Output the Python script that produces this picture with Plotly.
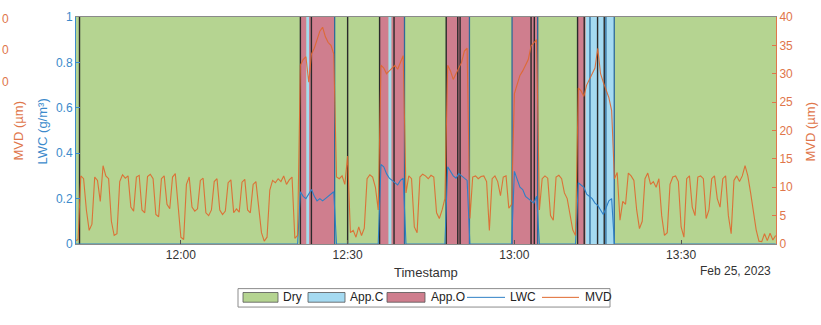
import plotly.graph_objects as go
import pandas as pd

# ---------------- DATA ----------------
# MVD (µm), one value every 30 s starting 11:41:00 on 2023-02-25
mvd_start = "2023-02-25 11:41:00"
mvd_values = [
    0.5, 0.8, 12.0, 11.5, 6.0, 2.4, 3.5, 11.8, 11.2, 7.5,
    13.8, 12.0, 11.5, 4.0, 1.5, 1.8, 11.0, 12.2, 11.6, 12.0,
    6.5, 5.8, 11.8, 12.1, 6.0, 5.5, 11.9, 12.3, 11.5, 5.2,
    4.8, 11.5, 12.0, 7.0, 6.2, 11.8, 12.4, 6.0, 1.2, 0.8,
    10.5, 11.8, 6.5, 5.8, 6.2, 11.2, 11.6, 5.5, 5.0, 6.0,
    11.0, 11.5, 6.0, 5.2, 5.8, 10.8, 11.3, 5.5, 6.2, 5.6,
    10.9, 11.4, 6.0, 5.5, 10.5, 11.0, 6.5, 2.0, 0.5, 1.2,
    9.5, 11.2, 10.8, 11.5, 11.0, 12.0, 10.5, 11.3, 11.8, 1.0,
    1.5, 31.5, 32.5, 33.0, 28.5, 33.5, 34.5, 36.0, 37.5, 38.2,
    36.5, 35.5, 35.0, 33.5, 11.8, 11.5, 12.0, 10.5, 15.5, 2.0,
    2.4, 1.2, 3.0, 1.5, 2.8, 11.5, 12.2, 11.8, 10.0, 6.0,
    31.5, 31.0, 30.0, 30.5, 31.0, 31.5, 30.8, 32.0, 33.2, 9.0,
    12.0, 11.5, 3.0, 2.0, 11.8, 12.3, 12.0, 11.5, 12.1, 11.8,
    5.5, 4.5, 6.0, 8.0, 31.5, 30.5, 29.0, 30.0, 31.0, 32.0,
    34.0, 34.5, 4.5, 11.8, 12.0, 11.5, 11.9, 12.0, 11.0, 2.4,
    11.5, 12.0, 11.0, 8.5, 11.8, 12.0, 6.3, 7.0, 26.5, 28.0,
    29.7, 30.5, 31.5, 32.5, 34.9, 35.5, 36.0, 6.0, 11.5, 12.0,
    11.6, 5.0, 4.2, 11.8, 12.1, 11.5, 9.0, 8.0, 5.5, 2.5,
    1.5, 27.5, 27.0, 26.0, 28.0, 29.0, 30.0, 31.0, 34.5, 30.0,
    28.5, 27.0, 25.8, 23.5, 11.5, 12.6, 4.2, 7.5, 7.0, 12.5,
    12.0, 11.2, 6.0, 2.7, 4.0, 11.5, 12.5, 10.5, 11.0, 10.0,
    11.5, 5.0, 1.5, 2.0, 10.5, 11.8, 12.0, 11.0, 3.0, 1.2,
    11.5, 12.0, 6.5, 5.0, 11.8, 12.0, 11.5, 4.5, 6.0, 11.5,
    12.0, 8.0, 6.5, 11.5, 12.0, 5.0, 1.8, 11.2, 12.0, 11.0,
    12.0, 13.8, 12.0, 9.0, 6.0, 2.5, 0.5, 0.4, 1.8, 0.6,
    1.9, 0.7, 1.5,
]

# LWC (g/m³) during cloud encounters (30 s step from each start), 0 elsewhere
lwc_seg_starts = ["2023-02-25 12:21:30", "2023-02-25 12:36:00", "2023-02-25 12:48:00",
                  "2023-02-25 13:00:00", "2023-02-25 13:11:30"]
lwc_seg_values = [
    [0.23, 0.21, 0.20, 0.22, 0.24, 0.21, 0.19, 0.20, 0.19, 0.20, 0.21, 0.22, 0.23],
    [0.35, 0.34, 0.31, 0.29, 0.28, 0.27, 0.26, 0.28, 0.29],
    [0.34, 0.32, 0.30, 0.29, 0.31, 0.30, 0.29, 0.28],
    [0.32, 0.28, 0.25, 0.24, 0.21, 0.20, 0.19, 0.18, 0.21],
    [0.27, 0.26, 0.25, 0.22, 0.21, 0.20, 0.18, 0.17, 0.15, 0.13, 0.16, 0.19, 0.20],
]

# Icing state segments: start time and state (each lasts until the next start)
state_starts = ["2023-02-25 11:41:00", "2023-02-25 12:21:30", "2023-02-25 12:22:35",
                "2023-02-25 12:23:03", "2023-02-25 12:27:40", "2023-02-25 12:35:45",
                "2023-02-25 12:37:22", "2023-02-25 12:37:54", "2023-02-25 12:40:14",
                "2023-02-25 12:47:44", "2023-02-25 12:51:55", "2023-02-25 12:59:35",
                "2023-02-25 13:04:22", "2023-02-25 13:11:22", "2023-02-25 13:12:50",
                "2023-02-25 13:17:58"]
state_names = ["Dry", "App.O", "App.C", "App.O", "Dry", "App.O", "App.C", "App.O", "Dry",
               "App.O", "Dry", "App.O", "Dry", "App.O", "App.C", "Dry"]
state_end = "2023-02-25 13:48:00"

# Transition markers
dark_marks = ["2023-02-25 11:41:46", "2023-02-25 12:21:30", "2023-02-25 12:23:29",
              "2023-02-25 12:30:00", "2023-02-25 12:35:45", "2023-02-25 12:38:21",
              "2023-02-25 12:47:44", "2023-02-25 12:49:49", "2023-02-25 12:50:14",
              "2023-02-25 13:03:00", "2023-02-25 13:03:35", "2023-02-25 13:11:22",
              "2023-02-25 13:12:34", "2023-02-25 13:14:58", "2023-02-25 13:16:10"]
blue_marks = ["2023-02-25 12:27:40", "2023-02-25 12:40:14", "2023-02-25 12:51:55",
              "2023-02-25 12:59:35", "2023-02-25 13:04:11", "2023-02-25 13:13:36",
              "2023-02-25 13:16:28", "2023-02-25 13:17:58"]

x_range = ["2023-02-25 11:41:08", "2023-02-25 13:47:04"]
x_tick_vals = ["2023-02-25 12:00", "2023-02-25 12:30", "2023-02-25 13:00", "2023-02-25 13:30"]
x_tick_text = ["12:00", "12:30", "13:00", "13:30"]
lwc_ticks = [0, 0.2, 0.4, 0.6, 0.8, 1]
mvd_ticks = [0, 5, 10, 15, 20, 25, 30, 35, 40]
legend_names = ["Dry", "App.C", "App.O", "LWC", "MVD"]

# ---------------- STYLE ----------------
FONT = "Liberation Sans, Arial, Helvetica, sans-serif"
C_DRY = "#B5D491"
C_APPC = "#A5DAF1"
C_APPO = "#CF7E8E"
C_LWC = "#2F80C6"
C_MVD = "#E0682E"
C_LWC_AX = "#3C8ACB"
C_MVD_AX = "#E0764A"
state_colors = {"Dry": C_DRY, "App.C": C_APPC, "App.O": C_APPO}

W, H = 821, 325
L, R, T, B = 76, 776, 10, 244


def px(xp):
    return (xp - L) / (R - L)


def py(yp):
    return (B - yp) / (B - T)


times = pd.date_range(mvd_start, periods=len(mvd_values), freq="30s")
lwc_full = [0.0] * len(times)
for st, vals in zip(lwc_seg_starts, lwc_seg_values):
    i0 = times.get_loc(pd.Timestamp(st))
    for k, v in enumerate(vals):
        lwc_full[i0 + k] = v

fig = go.Figure()
fig.add_trace(go.Scatter(x=times, y=lwc_full, mode="lines", name="LWC",
                         line=dict(color=C_LWC, width=1.1), yaxis="y", showlegend=False))
fig.add_trace(go.Scatter(x=times, y=mvd_values, mode="lines", name="MVD",
                         line=dict(color=C_MVD, width=1.1), yaxis="y2", showlegend=False,
                         opacity=0.9))

shapes = []
ends = state_starts[1:] + [state_end]
for s, e, n in zip(state_starts, ends, state_names):
    shapes.append(dict(type="rect", xref="x", yref="paper", x0=s, x1=e, y0=0, y1=1,
                       fillcolor=state_colors[n], line=dict(width=0), layer="below"))
for m in dark_marks:
    shapes.append(dict(type="line", xref="x", yref="paper", x0=m, x1=m, y0=0, y1=1,
                       line=dict(color="#2a2a2a", width=1.4), layer="below"))
for m in blue_marks:
    shapes.append(dict(type="line", xref="x", yref="paper", x0=m, x1=m, y0=0, y1=1,
                       line=dict(color="#2E6A9A", width=1.3), layer="below"))

# custom legend box
ly = 299
shapes.append(dict(type="rect", xref="paper", yref="paper", x0=px(238), x1=px(610),
                   y0=py(290), y1=py(309), fillcolor="white",
                   line=dict(color="#8c8c8c", width=1)))
patch_x = [(243, 278), (308, 345), (387, 425)]
text_x = [281, 348, 429, 508, 583]
for (a, b), n in zip(patch_x, legend_names[:3]):
    shapes.append(dict(type="rect", xref="paper", yref="paper", x0=px(a), x1=px(b),
                       y0=py(ly + 5), y1=py(ly - 5), fillcolor=state_colors[n],
                       line=dict(color="#555555", width=0.8)))
for (a, b), c in zip([(467, 505), (542, 579)], [C_LWC, C_MVD]):
    shapes.append(dict(type="line", xref="paper", yref="paper", x0=px(a), x1=px(b),
                       y0=py(ly), y1=py(ly), line=dict(color=c, width=1)))

annotations = []
for tx, n in zip(text_x, legend_names):
    annotations.append(dict(text=n, xref="paper", yref="paper", x=px(tx), y=py(ly),
                            xanchor="left", yanchor="middle", showarrow=False,
                            font=dict(family=FONT, size=12, color="#222222")))
annotations += [
    dict(text="LWC (g/m³)", xref="paper", yref="paper", x=px(42), y=py(128),
         textangle=-90, showarrow=False, xanchor="center", yanchor="middle",
         font=dict(family=FONT, size=13, color=C_LWC_AX)),
    dict(text="MVD (µm)", xref="paper", yref="paper", x=px(18), y=py(128),
         textangle=-90, showarrow=False, xanchor="center", yanchor="middle",
         font=dict(family=FONT, size=13, color=C_MVD_AX)),
    dict(text="MVD (µm)", xref="paper", yref="paper", x=px(810), y=py(128),
         textangle=-90, showarrow=False, xanchor="center", yanchor="middle",
         font=dict(family=FONT, size=13, color=C_MVD_AX)),
    dict(text="Timestamp", xref="paper", yref="paper", x=px(426), y=py(273),
         showarrow=False, xanchor="center", yanchor="middle",
         font=dict(family=FONT, size=13, color="#333333")),
    dict(text="Feb 25, 2023", xref="paper", yref="paper", x=px(773), y=py(272),
         showarrow=False, xanchor="right", yanchor="middle",
         font=dict(family=FONT, size=12, color="#333333")),
]
for yy in [12, 44, 77]:
    annotations.append(dict(text="0", xref="paper", yref="paper", x=px(0), y=py(yy),
                            showarrow=False, xanchor="left", yanchor="middle",
                            font=dict(family=FONT, size=12, color=C_MVD_AX)))

fig.update_layout(
    width=W, height=H,
    margin=dict(l=L, r=W - R, t=T, b=H - B, pad=0),
    paper_bgcolor="white", plot_bgcolor=C_DRY,
    font=dict(family=FONT, size=12, color="#333333"),
    showlegend=False,
    shapes=shapes, annotations=annotations,
    xaxis=dict(type="date", range=x_range, tickvals=x_tick_vals, ticktext=x_tick_text,
               ticks="inside", ticklen=4, tickcolor="#555555", showline=True,
               linecolor="#8a8a8a", linewidth=1, mirror=True, showgrid=False,
               zeroline=False, tickfont=dict(family=FONT, size=12, color="#333333")),
    yaxis=dict(range=[0, 1], tickvals=lwc_ticks, ticks="inside", ticklen=4,
               tickcolor=C_LWC_AX, showline=True, linecolor=C_LWC_AX, linewidth=1,
               showgrid=False, zeroline=False,
               tickfont=dict(family=FONT, size=12, color=C_LWC_AX)),
    yaxis2=dict(range=[0, 40], tickvals=mvd_ticks, overlaying="y", side="right",
                ticks="inside", ticklen=4, tickcolor=C_MVD_AX, showline=True,
                linecolor=C_MVD_AX, linewidth=1, showgrid=False, zeroline=False,
                tickfont=dict(family=FONT, size=12, color=C_MVD_AX)),
)

fig.write_html("out.html")
